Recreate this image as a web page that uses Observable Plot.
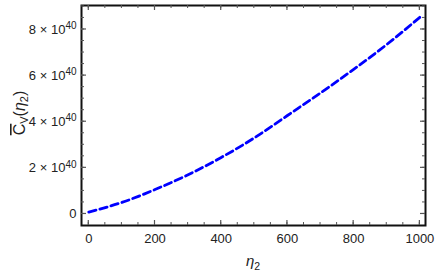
<!DOCTYPE html>
<html>
<head>
<meta charset="utf-8">
<script src="https://cdn.jsdelivr.net/npm/d3@7"></script>
<script src="https://cdn.jsdelivr.net/npm/@observablehq/plot@0.6"></script>
<style>
  html, body { margin: 0; padding: 0; background: #fff; }
  #chart svg { display: block; }
</style>
</head>
<body>
<div id="chart"></div>
<script>
// Data (C̄_V in units of 1e40)
const eta = [0, 100, 200, 300, 400, 500, 600, 700, 800, 900, 1000];
const cv  = [0.08e40, 0.5e40, 1.06e40, 1.7e40, 2.45e40, 3.3e40, 4.27e40, 5.25e40, 6.27e40, 7.35e40, 8.53e40];
const xMajor = [0, 200, 400, 600, 800, 1000];
const xMinor = d3.range(0, 1001, 50);
const yMajor = [0, 2e40, 4e40, 6e40, 8e40];
const yMinor = d3.range(0, 9.01, 0.5).map(v => v * 1e40);

const data = eta.map((e, i) => ({eta: e, cv: cv[i]}));

const font = "'Liberation Sans', Arial, sans-serif";
const tickCol = "#555";
const mL = 81, mR = 11, mT = 5, mB = 48, W = 436, H = 273;

const plot = Plot.plot({
  width: W,
  height: H,
  marginLeft: mL,
  marginRight: mR,
  marginTop: mT,
  marginBottom: mB,
  style: {fontFamily: font, color: "#222", background: "#fff"},
  x: {domain: [-22, 1017], ticks: xMajor, tickSize: 0, tickPadding: 8, label: null, tickFormat: d => String(d)},
  y: {domain: [-0.5e40, 9.04e40], ticks: yMajor, tickSize: 0, tickPadding: 5, label: null,
      tickFormat: d => d === 0 ? "0" : `${d / 1e40}|40`},
  marks: [
    Plot.frame({stroke: "#111", strokeWidth: 2}),
    Plot.line(data, {x: "eta", y: "cv", stroke: "#0000ff", strokeWidth: 2.8, strokeDasharray: "7.5,4", curve: "natural"})
  ]
});

document.getElementById("chart").appendChild(plot);

const svg = d3.select(plot);
const sx = plot.scale("x"), sy = plot.scale("y");
const L = mL, R = W - mR, T = mT, B = H - mB;

// tick labels: size and superscripts
svg.selectAll("text").each(function() {
  const t = d3.select(this);
  t.style("font-size", "13px").style("fill", "#222");
  const s = t.text();
  if (!s.includes("|")) return;
  const [m, e] = s.split("|");
  t.text(null);
  t.append("tspan").text(`${m} × 10`);
  t.append("tspan").attr("dy", "-0.45em").style("font-size", "10px").text(e);
});

// inward ticks on all four sides (Mathematica frame style)
const tg = svg.append("g").attr("stroke", tickCol).attr("fill", "none");
function ticksX(vals, len, w) {
  vals.forEach(v => {
    const x = sx.apply(v);
    tg.append("line").attr("x1", x).attr("x2", x).attr("y1", B).attr("y2", B - len).attr("stroke-width", w);
    tg.append("line").attr("x1", x).attr("x2", x).attr("y1", T).attr("y2", T + len).attr("stroke-width", w);
  });
}
function ticksY(vals, len, w) {
  vals.forEach(v => {
    const y = sy.apply(v);
    tg.append("line").attr("y1", y).attr("y2", y).attr("x1", L).attr("x2", L + len).attr("stroke-width", w);
    tg.append("line").attr("y1", y).attr("y2", y).attr("x1", R).attr("x2", R - len).attr("stroke-width", w);
  });
}
ticksX(xMinor, 3, 1);
ticksY(yMinor, 3, 1);
ticksX(xMajor, 5, 1.2);
ticksY(yMajor, 5, 1.2);

// axis titles
const xt = svg.append("text")
  .attr("x", (L + R) / 2).attr("y", 266)
  .attr("text-anchor", "middle")
  .style("font-family", font).style("font-size", "15px").attr("fill", "#222");
xt.append("tspan").attr("font-style", "italic").text("η");
xt.append("tspan").style("font-size", "10.5px").attr("dy", 4).text("2");

const yt = svg.append("text")
  .attr("transform", `translate(25,${(T + B) / 2 - 2}) rotate(-90)`)
  .attr("text-anchor", "middle")
  .style("font-family", font).style("font-size", "16px").attr("fill", "#222");
yt.append("tspan").attr("text-decoration", "overline").text("C");
yt.append("tspan").style("font-size", "11px").attr("dy", 3).text("V");
yt.append("tspan").attr("dy", -3).text("(");
yt.append("tspan").attr("font-style", "italic").text("η");
yt.append("tspan").style("font-size", "11px").attr("dy", 3).text("2");
yt.append("tspan").attr("dy", -3).text(")");
</script>
</body>
</html>
